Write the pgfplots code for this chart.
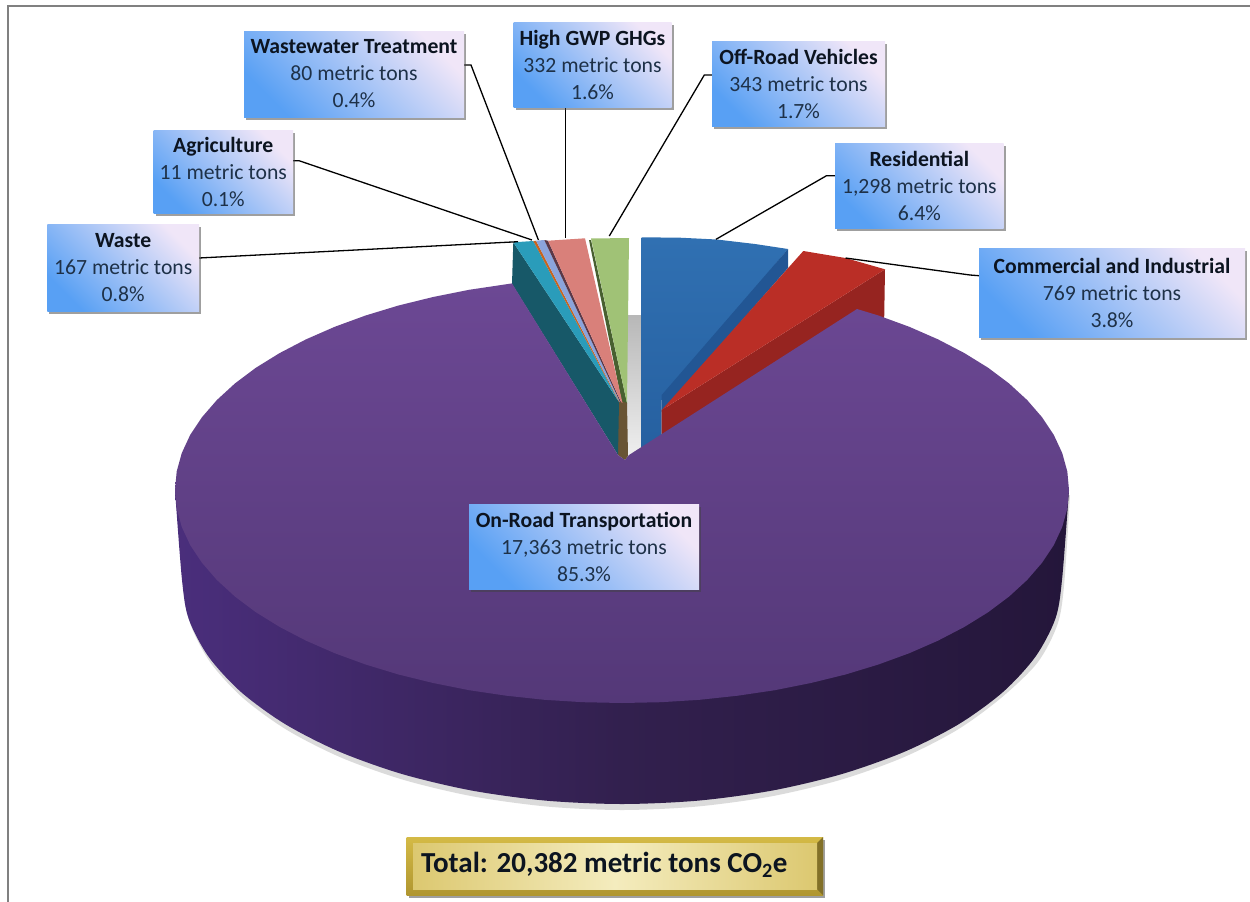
\documentclass[border=0pt]{standalone}
\usepackage{pgfplots}
\pgfplotsset{compat=1.18}
\usepackage{fontspec}
\setmainfont{Carlito}
\usetikzlibrary{shadows,fadings}
\definecolor{boxlo}{HTML}{58A0F4}
\definecolor{boxhi}{HTML}{F0E6F8}
\definecolor{valtxt}{HTML}{1E3148}
\definecolor{headtxt}{HTML}{0C1420}
\definecolor{bluea}{HTML}{3070B2}
\definecolor{blueb}{HTML}{2660A0}
\definecolor{bluew}{HTML}{225694}
\definecolor{redw}{HTML}{962420}
\definecolor{redt}{HTML}{BA2E26}
\definecolor{olive}{HTML}{486030}
\definecolor{brownish}{HTML}{685434}
\definecolor{tealw}{HTML}{175868}
\definecolor{tealt}{HTML}{2A9CBA}
\definecolor{orangeb}{HTML}{C8641E}
\definecolor{peri}{HTML}{8BA4DC}
\definecolor{darks}{HTML}{5A3848}
\definecolor{pinkt}{HTML}{D9807A}
\definecolor{greent}{HTML}{A0C276}
\definecolor{sidel}{HTML}{4A2E7C}
\definecolor{sidem}{HTML}{32204E}
\definecolor{sider}{HTML}{24163A}
\definecolor{topa}{HTML}{6C4894}
\definecolor{topb}{HTML}{543878}
\definecolor{golda}{HTML}{D4BA46}
\definecolor{goldb}{HTML}{B09630}
\definecolor{goldr}{HTML}{827028}
\definecolor{goldm}{HTML}{F4ECBE}
\definecolor{golde}{HTML}{DCC870}
\newcommand{\lbox}[6]{%
  \path[drop shadow={shadow xshift=2pt,shadow yshift=-3pt,opacity=.5,fill=black!75},
        bottom color=boxlo,top color=boxhi,shading angle=-45]
     (axis cs:#1,#2) rectangle (axis cs:#3,#4);
  \node[align=center,inner sep=0pt,font=\fontsize{21.7}{27}\selectfont,text=valtxt]
     at (axis cs:{(#1+#3)/2},{(#2+#4)/2}) {\textcolor{headtxt}{\textbf{#5}}\\#6};
}
\begin{document}
\begin{tikzpicture}
\begin{axis}[at={(0,0)},anchor=south west,scale only axis,width=1250pt,height=902pt,
  xmin=0,xmax=1250,ymin=0,ymax=902,y dir=reverse,hide axis,no markers,clip=true]
% gray backing
\addplot[draw=none,shade,top color=black!28,bottom color=black!6] coordinates {(627,315)(642,315)(642,447)(627,458)};
% residential
\addplot[draw=none,shade,top color=bluea,bottom color=blueb] coordinates {(641.7,237.3)(680,237.7)(716.7,239.5)(755,244)(788,249)(661.7,400)(661.7,440)(641.7,452)};
\addplot[draw=none,fill=bluew] coordinates {(788,249)(788,268)(661.7,412)(661.7,395)};
% commercial
\addplot[draw=none,fill=redw] coordinates {(885,269.3)(884,330)(661.7,442)(661.7,410)};
\addplot[draw=none,fill=redt] coordinates {(803.3,251)(845.5,258)(885,269.3)(661.7,410)};
% off-road wall and brown sliver
\addplot[draw=none,fill=olive] coordinates {(589,240)(591,240)(627,403)(622,403)};
\addplot[draw=none,fill=brownish] coordinates {(617,400)(627,403)(628,456)(625,460)(618,455)};
% waste
\addplot[draw=none,fill=tealw] coordinates {(513.3,242.3)(512,284)(618,455)(619,402)};
\addplot[draw=none,fill=tealt] coordinates {(513.3,242.3)(533.3,241)(619,402)};
% agriculture
\addplot[draw=none,fill=orangeb] coordinates {(533.3,241)(536,240.7)(619.5,402)(619,402)};
% wastewater
\addplot[draw=none,fill=peri] coordinates {(536,240.7)(544.3,240)(620,402)(619.5,402)};
% high GWP wall + top
\addplot[draw=none,fill=darks] coordinates {(544.3,240)(548,240.7)(621,402)(620,402)};
\addplot[draw=none,fill=pinkt] coordinates {(548,240.7)(585,238.3)(622.5,403)(621,402)};
% off-road top
\addplot[draw=none,fill=greent] coordinates {(591,238.5)(629,238)(627,403)};
% soft shadow
\addplot[draw=none,smooth,fill=black!14] coordinates {(176,495)(184,586)(190.7,624.9)(210.5,662.6)(243,698)(287,730)(341.2,757.6)(404,780)(473.5,796.5)(547.6,806.6)(622,810)(696.4,806.6)(770.5,796.5)(840,780)(902.8,757.6)(957,730)(1001,698)(1037.5,662.6)(1057.3,624.9)(1064,586)(1070,495)};
% side wall of the on-road slice
\addplot[draw=none,smooth,shade,left color=sidel,right color=sider,middle color=sidem] coordinates {(175,490)(182,580)(188.7,618.9)(208.5,656.6)(241,692)(285,724)(339.2,751.6)(402,774)(471.5,790.5)(545.6,800.6)(622,804)(698.4,800.6)(772.5,790.5)(842,774)(904.8,751.6)(959,724)(1003,692)(1035.5,656.6)(1055.3,618.9)(1062,580)(1069,490)};
% top of the on-road slice
\addplot[draw=none,shade,top color=topa,bottom color=topb] coordinates {(618,455)(625,460)(629,455)(857,309)(878.4,315.5)(909.3,326.8)(938.1,339.4)(964.4,353.1)(988.2,367.8)(1009.1,383.5)(1027.1,400)(1042,417.2)(1053.8,434.9)(1062.2,453)(1067.3,471.4)(1069,490)(1067.3,508.6)(1062.2,527)(1053.8,545.1)(1042,562.8)(1027.1,580)(1009.1,596.5)(988.2,612.2)(964.4,626.9)(938.1,640.6)(909.3,653.2)(878.4,664.5)(845.5,674.5)(810.9,683)(774.9,690.2)(737.7,695.7)(699.6,699.8)(661,702.2)(622,703)(583,702.2)(544.4,699.8)(506.3,695.7)(469.1,690.2)(433.1,683)(398.5,674.5)(365.6,664.5)(334.7,653.2)(305.9,640.6)(279.6,626.9)(255.8,612.2)(234.9,596.5)(216.9,580)(202,562.8)(190.2,545.1)(181.8,527)(176.7,508.6)(175,490)(176.7,471.4)(181.8,453)(190.2,434.9)(202,417.2)(216.9,400)(234.9,383.5)(255.8,367.8)(279.6,353.1)(305.9,339.4)(334.7,326.8)(365.6,315.5)(398.5,305.5)(433.1,297)(469.1,289.8)(512,283.4)};
% leader lines
\addplot[black,line width=1.3pt] coordinates {(464,65)(471,65)(538.4,240)};
\addplot[black,line width=1.3pt] coordinates {(293,160.7)(299,160.7)(532,240)};
\addplot[black,line width=1.3pt] coordinates {(199,258)(518,241.7)};
\addplot[black,line width=1.3pt] coordinates {(565.7,107)(565.7,238)};
\addplot[black,line width=1.3pt] coordinates {(712,75)(704.3,75)(609.3,236)};
\addplot[black,line width=1.3pt] coordinates {(835,175.7)(826.5,175.7)(716,239.3)};
\addplot[black,line width=1.3pt] coordinates {(979,275.7)(970,275)(845.5,258)};
% labels
\lbox{244}{31}{464}{117}{Wastewater Treatment}{80 metric tons\\0.4\%}
\lbox{153.5}{130}{293}{213}{Agriculture}{11 metric tons\\0.1\%}
\lbox{47.4}{224}{199}{311}{Waste}{167 metric tons\\0.8\%}
\lbox{513.5}{22}{671.5}{107}{High GWP GHGs}{332 metric tons\\1.6\%}
\lbox{712}{41}{885}{126}{Off-Road Vehicles}{343 metric tons\\1.7\%}
\lbox{835}{143}{1003.7}{228}{Residential}{1,298 metric tons\\6.4\%}
\lbox{979}{248}{1245}{337}{Commercial and Industrial}{769 metric tons\\3.8\%}
\lbox{469}{504}{699}{589}{On-Road Transportation}{17,363 metric tons\\85.3\%}
% total box
\path[drop shadow={shadow xshift=2pt,shadow yshift=-3pt,opacity=.5,fill=black!75},top color=golda,bottom color=goldb] (axis cs:406.7,837) rectangle (axis cs:823,895);
\fill[goldr] (axis cs:823,837) -- (axis cs:823,895) -- (axis cs:817,889) -- (axis cs:817,843) -- cycle;
\path[left color=golde,right color=golde,middle color=goldm] (axis cs:413,843) rectangle (axis cs:817,889);
\node[anchor=west,inner sep=0pt,font=\fontsize{29}{32}\selectfont\bfseries,text=headtxt] at (axis cs:421,865) {Total: 20,382 metric tons CO\textsubscript{2}e};
% frame
\draw[black!50,line width=2pt] (axis cs:8,902) -- (axis cs:8,6) -- (axis cs:1250,6);
\end{axis}
\useasboundingbox (0,0) rectangle (1250pt,902pt);
\end{tikzpicture}
\end{document}
